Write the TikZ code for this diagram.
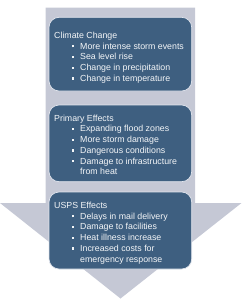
\documentclass[tikz,border=0pt]{standalone}
\usepackage{fontspec}
\setmainfont{Liberation Sans}
\definecolor{arrowgray}{HTML}{C5C8D5}
\definecolor{boxblue}{HTML}{3E5F80}
\definecolor{boxline}{HTML}{E2E6EE}
\definecolor{txt}{HTML}{F4F6F8}
\newcommand{\bitem}[1]{\hspace*{18pt}\makebox[8pt][l]{\raisebox{1.8pt}{\rule{2.3pt}{2.3pt}}}#1}
\newcommand{\bcont}[1]{\hspace*{26pt}#1}
\newcommand{\toprule}{\rule{0pt}{7pt}}
\tikzset{
  bigbox/.style={draw=boxline, line width=0.7pt, fill=boxblue, rounded corners=10pt},
  boxtext/.style={anchor=north west, inner sep=0pt, align=left, text=txt,
    font=\fontsize{8.8}{10.7}\selectfont},
}
\begin{document}
\begin{tikzpicture}[x=1pt,y=-1pt]
\useasboundingbox (0,0) rectangle (242,300);
\fill[arrowgray] (45.5,7.5) -- (195,7.5) -- (195,203) -- (241.5,203) -- (120.5,298.5) -- (0,203) -- (45.5,203) -- cycle;
\draw[bigbox] (49,17.3) rectangle (191.7,91) coordinate (b1);
\draw[bigbox] (49,105) rectangle (191.7,181.7) coordinate (b2);
\draw[bigbox] (49,192) rectangle (191.7,269) coordinate (b3);
\node[boxtext] (t1) at (54,31.3) {\toprule Climate Change\\
\bitem{More intense storm events}\\
\bitem{Sea level rise}\\
\bitem{Change in precipitation}\\
\bitem{Change in temperature}};
\node[boxtext] (t2) at (54,114) {\toprule Primary Effects\\
\bitem{Expanding flood zones}\\
\bitem{More storm damage}\\
\bitem{Dangerous conditions}\\
\bitem{Damage to infrastructure}\\
\bcont{from heat}};
\node[boxtext] (t3) at (54,201.3) {\toprule USPS Effects\\
\bitem{Delays in mail delivery}\\
\bitem{Damage to facilities}\\
\bitem{Heat illness increase}\\
\bitem{Increased costs for}\\
\bcont{emergency response}};
\end{tikzpicture}
\end{document}
